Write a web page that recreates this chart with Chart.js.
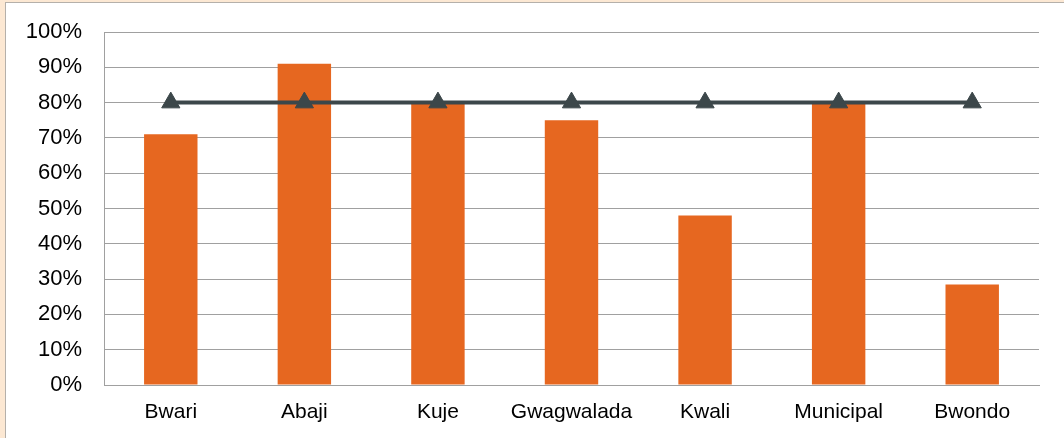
<!DOCTYPE html>
<html>
<head>
<meta charset="utf-8">
<script src="https://cdn.jsdelivr.net/npm/chart.js@4/dist/chart.umd.min.js"></script>
<style>
    html, body { margin: 0; padding: 0; width: 1064px; height: 438px; overflow: hidden; background: #fce8d3; }
    #frame { position: absolute; left: 5px; top: 2px; width: 1200px; height: 600px; background: #fff; border: 1px solid #b5b0aa; }
    #wrap { position: absolute; left: 0; top: 0; width: 1064px; height: 438px; }
</style>
</head>
<body>
<div id="frame"></div>
<div id="wrap"><canvas id="chart"></canvas></div>
<script>
const districts = ['Bwari', 'Abaji', 'Kuje', 'Gwagwalada', 'Kwali', 'Municipal', 'Bwondo'];
const coverage = [71, 91, 80, 75, 48, 80, 28.5];
const target = [80, 80, 80, 80, 80, 80, 80];
const yTicks = [0, 10, 20, 30, 40, 50, 60, 70, 80, 90, 100];

const barColor = '#e66720';
const lineColor = '#3c474a';
const gridColor = '#a0a0a0';

const ctx = document.getElementById('chart');
new Chart(ctx, {
    data: {
        labels: districts,
        datasets: [
            {
                type: 'line',
                label: 'Target',
                data: target,
                borderColor: lineColor,
                backgroundColor: lineColor,
                borderWidth: 4,
                pointStyle: 'triangle',
                pointRadius: 10.5,
                pointBorderWidth: 1,
                fill: false,
                order: 0
            },
            {
                type: 'bar',
                label: 'Coverage',
                data: coverage,
                backgroundColor: barColor,
                categoryPercentage: 1,
                barPercentage: 0.4,
                order: 1
            }
        ]
    },
    options: {
        responsive: true,
        maintainAspectRatio: false,
        animation: false,
        layout: { padding: { top: 32, right: 25, left: 0, bottom: 0 } },
        plugins: {
            legend: { display: false },
            tooltip: { enabled: false }
        },
        scales: {
            x: {
                grid: { display: false, drawTicks: false },
                border: { display: true, color: gridColor, width: 1 },
                ticks: {
                    color: '#000',
                    padding: 15,
                    maxRotation: 0,
                    font: { family: 'Liberation Sans, Arial', size: 21 }
                },
                afterFit: s => { s.height = 53; }
            },
            y: {
                min: 0,
                max: 100,
                afterBuildTicks: s => { s.ticks = yTicks.map(v => ({ value: v })); },
                grid: { color: gridColor, lineWidth: 1, drawTicks: false },
                border: { display: true, color: gridColor, width: 1 },
                ticks: {
                    color: '#000',
                    padding: 22,
                    font: { family: 'Liberation Sans, Arial', size: 22 },
                    callback: v => v + '%'
                },
                afterFit: s => { s.width = 104; s.paddingTop = 0; s.paddingBottom = 0; }
            }
        }
    }
});
</script>
</body>
</html>
